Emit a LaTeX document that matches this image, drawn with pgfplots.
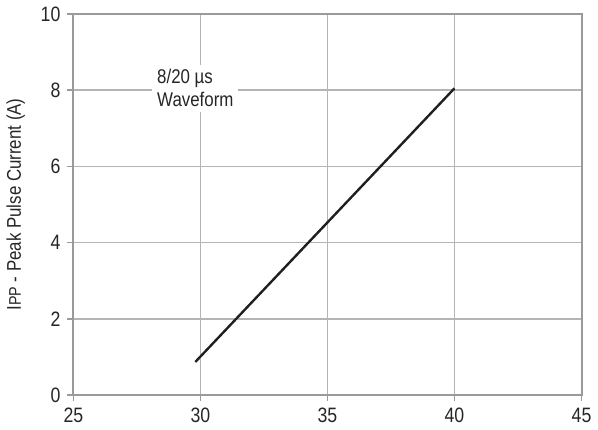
\documentclass[border=0pt]{standalone}
\usepackage{fontspec}
\setmainfont[FakeStretch=0.85]{Liberation Sans}
\usepackage{pgfplots}
\pgfplotsset{compat=1.18}
\definecolor{axisgray}{HTML}{9A9A9A}
\definecolor{gridgray}{HTML}{B4B4B4}
\begin{document}
\begin{tikzpicture}
\begin{axis}[
  width=256pt, height=192pt, scale only axis,
  xmin=25, xmax=45, ymin=0, ymax=10,
  xtick={25,30,35,40,45}, ytick={0,2,4,6,8,10},
  grid=major,
  major grid style={gridgray, line width=0.8pt},
  axis line style={axisgray, line width=1pt},
  tick style={axisgray, line width=0.8pt},
  tick align=outside, major tick length=3pt,
  xtick pos=bottom, ytick pos=left,
  every tick label/.append style={font=\fontsize{10.5}{12}\selectfont, text=black!85},
  /pgf/number format/assume math mode=true,
  ylabel={I{\fontsize{8.5}{10}\selectfont PP} - Peak Pulse Current (A)},
  ylabel style={font=\fontsize{10}{12}\selectfont, text=black!85},
  ylabel shift=1pt,
  clip=false,
]
\addplot[black!88, line width=1.2pt] coordinates {(29.8,0.87) (40,8.05)};
\node[fill=white, align=left, inner sep=2.5pt, text=black!85,
      font=\fontsize{10}{11.5}\selectfont] at (axis cs:29.8,8.05)
      {8/20 µs\\Waveform};
\end{axis}
\end{tikzpicture}
\end{document}
